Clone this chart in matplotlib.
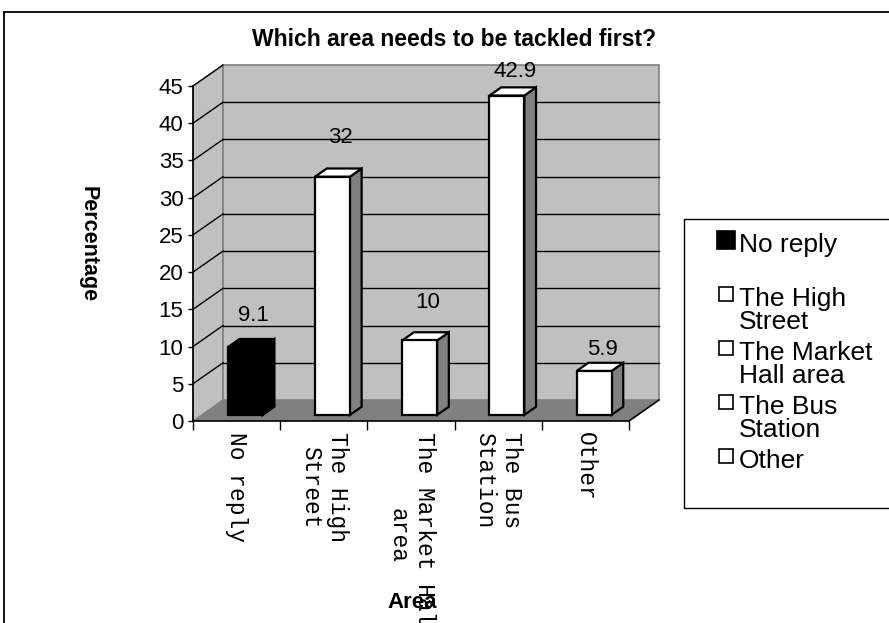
import matplotlib
matplotlib.use("Agg")
import matplotlib.pyplot as plt
from matplotlib.patches import Polygon, Rectangle
from matplotlib.lines import Line2D

# ---------------- data ----------------
categories = ["No reply", "The High Street", "The Market Hall area", "The Bus Station", "Other"]
tick_labels = ["No reply", "The High\nStreet", "The Market Hall\narea", "The Bus\nStation", "Other"]
legend_labels = ["No reply", "The High\nStreet", "The Market\nHall area", "The Bus\nStation", "Other"]
values = [9.1, 32, 10, 42.9, 5.9]
value_text = ["9.1", "32", "10", "42.9", "5.9"]
y_ticks = [0, 5, 10, 15, 20, 25, 30, 35, 40, 45]
title = "Which area needs to be tackled first?"
x_title = "Area"
y_title = "Percentage"

# ---------------- style / layout ----------------
front_colors = ["#000000", "#FFFFFF", "#FFFFFF", "#FFFFFF", "#FFFFFF"]
side_colors = ["#000000", "#808080", "#808080", "#808080", "#808080"]
label_lift_px = [32, 39, 38, 24, 21]
W, H, DPI = 889, 623, 100
SANS = ["Liberation Sans", "DejaVu Sans"]
MONO = ["Liberation Mono", "DejaVu Sans Mono"]

fx0, fx1 = 193, 629      # front plane x pixels
fy0, fy1 = 421, 86       # front plane y pixels (value 0 and 45)
DXp, DYp = 30, 21        # depth in pixels
ymax = 45
n = len(values)

fig = plt.figure(figsize=(W / DPI, H / DPI), dpi=DPI)
fig.patch.set_facecolor("white")
ax = fig.add_axes([fx0 / W, 1 - fy0 / H, (fx1 - fx0) / W, (fy0 - fy1) / H])
ax.set_xlim(0, n)
ax.set_ylim(0, ymax)
ax.set_facecolor("none")

ddx = DXp / (fx1 - fx0) * n
ddy = DYp / (fy0 - fy1) * ymax

wall = "#C0C0C0"
floor = "#808080"
edge = "#808080"

# side wall
ax.add_patch(Polygon([(0, 0), (ddx, ddy), (ddx, ymax + ddy), (0, ymax)], closed=True,
                     facecolor=wall, edgecolor=edge, lw=1, clip_on=False, zorder=0))
# back wall
ax.add_patch(Polygon([(ddx, ddy), (n + ddx, ddy), (n + ddx, ymax + ddy), (ddx, ymax + ddy)],
                     closed=True, facecolor=wall, edgecolor=edge, lw=1.2, clip_on=False, zorder=0))
# floor
ax.add_patch(Polygon([(0, 0), (n, 0), (n + ddx, ddy), (ddx, ddy)], closed=True,
                     facecolor=floor, edgecolor="none", clip_on=False, zorder=0.5))
ax.plot([n, n + ddx], [0, ddy], color="black", lw=1.2, clip_on=False, zorder=2.6)

# gridlines: back wall and side wall
for v in y_ticks[1:-1]:
    ax.plot([ddx, n + ddx], [v + ddy, v + ddy], color="black", lw=1, clip_on=False, zorder=1)
for v in y_ticks[1:]:
    ax.plot([0, ddx], [v, v + ddy], color="black", lw=1, clip_on=False, zorder=1)

# bars
f0, f1 = 0.29, 0.68
bw = 0.40
for i, v in enumerate(values):
    cx = i + 0.5
    xl = cx - bw / 2 + f0 * ddx
    xr = cx + bw / 2 + f0 * ddx
    yb = f0 * ddy
    yt = v + f0 * ddy
    ox = (f1 - f0) * ddx
    oy = (f1 - f0) * ddy
    ec = "black"
    ax.add_patch(Polygon([(xr, yb), (xr + ox, yb + oy), (xr + ox, yt + oy), (xr, yt)], closed=True,
                         facecolor=side_colors[i], edgecolor=ec, lw=1.6, joinstyle="miter",
                         clip_on=False, zorder=3))
    ax.add_patch(Polygon([(xl, yt), (xr, yt), (xr + ox, yt + oy), (xl + ox, yt + oy)], closed=True,
                         facecolor=front_colors[i], edgecolor=ec, lw=1.6, joinstyle="miter",
                         clip_on=False, zorder=3))
    ax.add_patch(Polygon([(xl, yb), (xr, yb), (xr, yt), (xl, yt)], closed=True,
                         facecolor=front_colors[i], edgecolor=ec, lw=1.6, joinstyle="miter",
                         clip_on=False, zorder=3.1))
    ax.annotate(value_text[i], xy=(cx + (f0 + f1) / 2 * ddx, yt), xytext=(2, label_lift_px[i]),
                textcoords="offset pixels", ha="center", va="center", fontsize=16,
                family=SANS, zorder=5, annotation_clip=False)

# spines & ticks
for s in ["top", "right"]:
    ax.spines[s].set_visible(False)
for s in ["left", "bottom"]:
    ax.spines[s].set_color("black")
    ax.spines[s].set_linewidth(1.2)
    ax.spines[s].set_zorder(2.6)

ax.set_yticks(y_ticks)
ax.set_yticklabels([str(t) for t in y_ticks], family=SANS, fontsize=16)
ax.tick_params(axis="y", length=3.8, width=1, pad=3.0, color="black")

ax.set_xticks([i + 0.5 for i in range(n)])
ax.set_xticklabels(tick_labels, rotation=-90, ha="center", va="top", multialignment="center",
                   family=MONO, fontsize=16.5)
ax.set_xticks(list(range(n + 1)), minor=True)
ax.tick_params(axis="x", which="major", length=0, pad=8)
ax.tick_params(axis="x", which="minor", length=6.5, width=1, color="black")

ax.set_xlabel(x_title, fontsize=16, fontweight="bold", family=SANS, va="center")
ax.xaxis.set_label_coords((412 - fx0) / (fx1 - fx0), (fy0 - 603) / (fy0 - fy1))
ax.set_ylabel(y_title, fontsize=15.5, fontweight="bold", family=SANS, rotation=-90,
              va="center", ha="center")
ax.yaxis.set_label_coords((88 - fx0) / (fx1 - fx0), (fy0 - 244) / (fy0 - fy1))

fig.text(454 / W, 1 - 40 / H, title, ha="center", va="center", fontsize=16.5,
         fontweight="bold", family=SANS)

# legend (drawn in figure coordinates)
fig.add_artist(Rectangle((684 / W, 1 - 508 / H), 0.5, 289 / H, transform=fig.transFigure,
                         facecolor="white", edgecolor="black", lw=1, clip_on=False))
leg_first, leg_step = 243, 54
for i, lab in enumerate(legend_labels):
    yc = leg_first + i * leg_step
    big = front_colors[i] == "#000000"
    fig.add_artist(Line2D([726 / W], [1 - (yc - 3) / H], transform=fig.transFigure,
                          marker="s", markersize=12.5 if big else 10.5, linestyle="none",
                          markerfacecolor=front_colors[i], markeredgecolor="black",
                          markeredgewidth=1.2))
    fig.text(739 / W, 1 - (yc - 10) / H, lab, ha="left", va="top", fontsize=19,
             family=SANS, linespacing=0.95)

# outer border
fig.add_artist(Rectangle((4 / W, -0.2), 1.2, 1.2 - 12 / H, transform=fig.transFigure,
                         facecolor="none", edgecolor="black", lw=1.3, clip_on=False))

fig.savefig("out.png", dpi=DPI)
